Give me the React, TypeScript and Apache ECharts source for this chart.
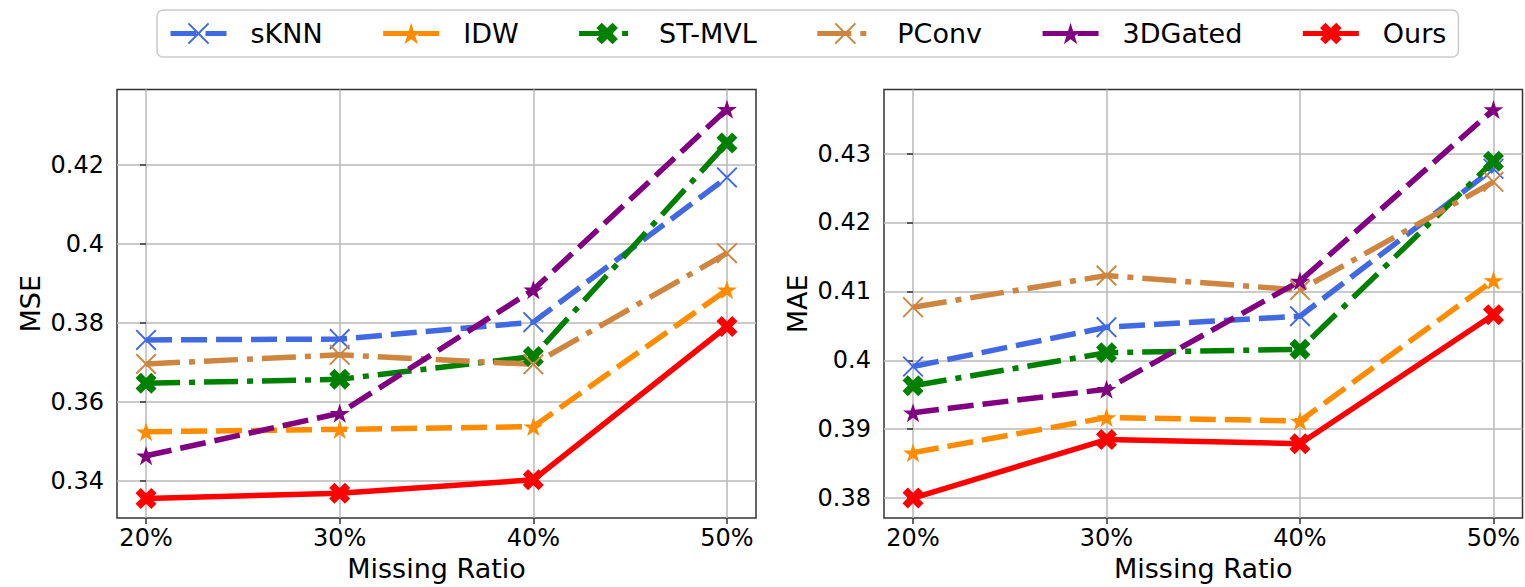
import React, { useEffect, useRef } from "react";
import * as echarts from "echarts";

// ---------- data ----------
const categories = ["20%", "30%", "40%", "50%"];
const methods = ["sKNN", "IDW", "ST-MVL", "PConv", "3DGated", "Ours"];

const mseSKNN = [0.3757, 0.3759, 0.3802, 0.4169];
const mseIDW = [0.3524, 0.353, 0.3537, 0.3884];
const mseSTMVL = [0.3647, 0.3657, 0.3715, 0.4256];
const msePConv = [0.3696, 0.3719, 0.3695, 0.3977];
const mse3DGated = [0.3463, 0.3571, 0.3884, 0.4342];
const mseOurs = [0.3355, 0.3368, 0.3402, 0.3791];

const maeSKNN = [0.3991, 0.4048, 0.4064, 0.4278];
const maeIDW = [0.3866, 0.3917, 0.3912, 0.4116];
const maeSTMVL = [0.3963, 0.4011, 0.4016, 0.4289];
const maePConv = [0.4077, 0.4123, 0.4102, 0.4259];
const mae3DGated = [0.3924, 0.3958, 0.4115, 0.4364];
const maeOurs = [0.38, 0.3885, 0.3879, 0.4066];

const mseTicks = [0.34, 0.36, 0.38, 0.4, 0.42];
const maeTicks = [0.38, 0.39, 0.4, 0.41, 0.42, 0.43];

// ---------- styles ----------
const FONT = "DejaVu Sans";
const X_FILLED = "path://M-1,-2L0,-1L1,-2L2,-1L1,0L2,1L1,2L0,1L-1,2L-2,1L-1,0L-2,-1Z";
const X_THIN =
  "path://M-1.74,-2L0,-0.26L1.74,-2L2,-1.74L0.26,0L2,1.74L1.74,2L0,0.26L-1.74,2L-2,1.74L-0.26,0L-2,-1.74Z";
const STAR =
  "path://M0,-1L0.2245,-0.309L0.951,-0.309L0.3633,0.118L0.5878,0.809L0,0.382L-0.5878,0.809L-0.3633,0.118L-0.951,-0.309L-0.2245,-0.309Z";

const DASH = [26, 9];
const DASHDOT = [34, 9, 6, 9];

const styles = [
  { color: "#4169E1", type: DASH, symbol: X_THIN, size: [21, 21] },
  { color: "#FF8C00", type: DASH, symbol: STAR, size: [20, 19] },
  { color: "#008000", type: DASHDOT, symbol: X_FILLED, size: [21, 21] },
  { color: "#CD853F", type: DASHDOT, symbol: X_THIN, size: [21, 21] },
  { color: "#800080", type: DASH, symbol: STAR, size: [20, 19] },
  { color: "#FF0000", type: "solid", symbol: X_FILLED, size: [21, 21] },
];

const buildSeries = (sets: number[][], idx: number) =>
  sets.map((vals, i) => ({
    name: methods[i],
    type: "line",
    xAxisIndex: idx,
    yAxisIndex: idx,
    data: vals.map((v, j) => [j, v]),
    symbol: styles[i].symbol,
    symbolSize: styles[i].size,
    lineStyle: { color: styles[i].color, width: 5.5, type: styles[i].type as any },
    itemStyle: { color: styles[i].color },
    emphasis: { disabled: true },
    clip: false,
  }));

const xAxisCfg = (gridIndex: number) => ({
  type: "value",
  gridIndex,
  min: -0.15,
  max: 3.15,
  axisLine: { show: false },
  axisTick: {
    show: true,
    length: 6,
    lineStyle: { color: "#333", width: 1.5 },
    customValues: [0, 1, 2, 3],
  },
  axisLabel: {
    customValues: [0, 1, 2, 3],
    formatter: (v: number) => categories[Math.round(v)],
    fontSize: 24,
    color: "#000",
    fontFamily: FONT,
    margin: 8,
  },
  splitLine: { show: true, lineStyle: { color: "#b8b8b8", width: 1.5 } },
  name: "Missing Ratio",
  nameLocation: "middle",
  nameGap: 34,
  nameTextStyle: { fontSize: 27, color: "#000", fontFamily: FONT },
});

const yAxisCfg = (gridIndex: number, min: number, max: number, ticks: number[], name: string) => ({
  type: "value",
  gridIndex,
  min,
  max,
  axisLine: { show: false },
  axisTick: {
    show: true,
    length: 6,
    lineStyle: { color: "#333", width: 1.5 },
    customValues: ticks,
  },
  axisLabel: {
    customValues: ticks,
    formatter: (v: number) => String(parseFloat(v.toFixed(2))),
    fontSize: 24,
    color: "#000",
    fontFamily: FONT,
    margin: 13,
  },
  splitLine: { show: true, lineStyle: { color: "#b8b8b8", width: 1.5 } },
  name,
  nameLocation: "middle",
  nameGap: 73,
  nameTextStyle: { fontSize: 27, color: "#000", fontFamily: FONT },
});

export default function App() {
  const ref = useRef<HTMLDivElement>(null);
  useEffect(() => {
    if (!ref.current) return;
    const chart = echarts.init(ref.current, undefined, { renderer: "svg" });
    chart.setOption({
      animation: false,
      backgroundColor: "#fff",
      textStyle: { fontFamily: FONT },
      legend: {
        data: methods,
        left: 157,
        top: 10,
        padding: [10, 12, 10, 11],
        itemGap: 58,
        itemWidth: 56,
        itemHeight: 27,
        borderColor: "#cccccc",
        borderWidth: 1.5,
        borderRadius: 6,
        lineStyle: { width: 5 },
        textStyle: { fontSize: 27, color: "#000", fontFamily: FONT, padding: [0, 0, 0, 19] },
      },
      grid: [
        { left: 117, top: 89.5, width: 639, height: 429, show: true, borderColor: "#333", borderWidth: 1.5 },
        { left: 884, top: 89.5, width: 638.5, height: 429, show: true, borderColor: "#333", borderWidth: 1.5 },
      ],
      xAxis: [xAxisCfg(0), xAxisCfg(1)],
      yAxis: [
        yAxisCfg(0, 0.3305, 0.4392, mseTicks, "MSE"),
        yAxisCfg(1, 0.3771, 0.4393, maeTicks, "MAE"),
      ],
      series: [
        ...buildSeries([mseSKNN, mseIDW, mseSTMVL, msePConv, mse3DGated, mseOurs], 0),
        ...buildSeries([maeSKNN, maeIDW, maeSTMVL, maePConv, mae3DGated, maeOurs], 1),
      ],
    });
    return () => chart.dispose();
  }, []);
  return (
    <div
      ref={ref}
      style={{ position: "absolute", left: 0, top: 0, width: 1525, height: 587 }}
    />
  );
}
